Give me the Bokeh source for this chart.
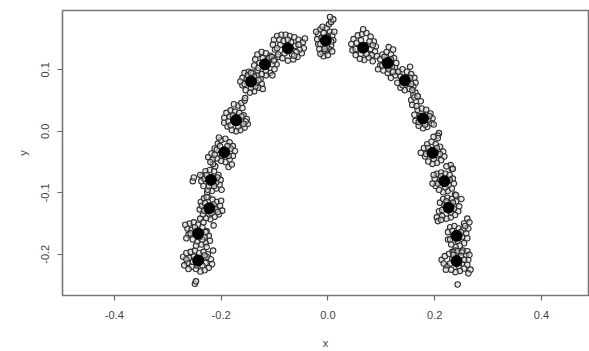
from bokeh.plotting import figure
from bokeh.models import Range1d, FixedTicker, CustomJSTickFormatter
from bokeh.embed import file_html
from bokeh.resources import INLINE

# cluster centres (black dots)
center_x = [-0.243, -0.243, -0.222, -0.219, -0.194, -0.172, -0.144, -0.118, -0.075, -0.004,
            0.066, 0.112, 0.144, 0.178, 0.196, 0.218, 0.226, 0.241, 0.241]
center_y = [-0.210, -0.166, -0.125, -0.079, -0.034, 0.018, 0.081, 0.109, 0.135, 0.148,
            0.136, 0.111, 0.083, 0.021, -0.035, -0.081, -0.124, -0.170, -0.211]

# scatter of individual points around each centre, in thousandths (dx, dy)
jit_01 = [(-28,6),(-22,12),(-14,14),(-6,16),(2,12),(10,14),(18,10),(24,2),(26,-6),(20,-12),(12,-16),(4,-18),(-4,-14),(-12,-10),(-20,-4),(-26,-8),(-6,-38),(-4,-34),(28,16),(-16,4),(14,-4),(-8,6),(8,-8),(-18,-14),(-10,-2),(6,4),(16,6),(-2,-8),(12,8),(-22,2)]
jit_02 = [(-20,8),(-16,16),(-8,18),(0,14),(8,10),(16,4),(20,-4),(22,-12),(14,-16),(6,-18),(-2,-14),(-10,-10),(-18,-2),(-22,-8),(-24,14),(4,24),(16,-22),(-12,6),(12,-6),(-4,-20),(10,18),(-14,0),(8,-10),(-6,10),(14,2),(2,-6)]
jit_03 = [(-16,10),(-10,16),(-2,18),(6,14),(14,10),(20,4),(24,-4),(18,-10),(10,-14),(2,-18),(-6,-16),(-12,-10),(-18,-2),(-4,26),(8,-28),(-14,4),(12,-2),(0,-10),(22,12),(-8,8),(8,6),(-10,-4),(16,-6),(4,-8)]
jit_04 = [(-16,6),(-10,14),(-2,16),(6,14),(14,8),(18,0),(16,-8),(10,-14),(2,-18),(-6,-16),(-14,-10),(-18,-2),(-34,-2),(-32,4),(8,22),(20,-16),(-8,-28),(-12,2),(10,-4),(4,26),(-8,8),(12,4),(-4,-10),(6,-10),(-20,8)]
jit_05 = [(-30,-8),(-24,-2),(-18,6),(-12,14),(-6,20),(2,22),(10,16),(16,10),(20,2),(16,-6),(10,-12),(2,-16),(-6,-14),(-14,-10),(-22,-12),(-10,24),(8,-24),(14,-20),(-14,4),(12,6),(-4,-6),(-8,10),(6,10),(-18,-4),(8,-6),(-26,-16)]
jit_06 = [(-22,4),(-18,12),(-10,16),(-2,14),(6,12),(14,8),(20,2),(22,-6),(16,-12),(8,-16),(0,-18),(-8,-16),(-16,-10),(-22,-4),(4,24),(10,28),(16,32),(-4,26),(12,20),(-12,6),(6,-4),(18,-2),(-14,-2),(-6,8),(10,6),(-10,-8),(4,-10),(14,-6)]
jit_07 = [(-16,6),(-12,14),(-4,16),(4,14),(12,10),(18,4),(20,-4),(14,-10),(6,-16),(-2,-18),(-10,-14),(-16,-6),(22,-12),(10,-2),(-20,0),(-11,-27),(-8,4),(8,-8),(-6,10),(6,8),(-12,-4),(14,2),(0,-10)]
jit_08 = [(-18,8),(-14,16),(-6,20),(2,18),(10,14),(18,8),(22,0),(18,-8),(10,-14),(2,-18),(-6,-16),(-14,-10),(-20,-2),(14,-18),(24,12),(-10,2),(6,4),(-26,-14),(-4,10),(8,10),(-12,-6),(14,0),(2,-10)]
jit_09 = [(-26,14),(-20,20),(-12,22),(-4,22),(4,20),(12,18),(20,14),(28,10),(30,0),(26,-8),(18,-14),(10,-18),(0,-20),(-10,-16),(-18,-10),(-24,-2),(-28,6),(-14,6),(14,4),(22,-2),(-6,-8),(6,10),(-30,-14),(-26,-20),(32,16),(-16,14),(16,-6),(-8,12),(20,6),(8,-10),(-20,0),(0,14),(12,-12)]
jit_10 = [(-14,10),(-10,18),(-6,22),(2,20),(8,14),(12,8),(14,0),(10,-8),(6,-14),(0,-18),(-6,-20),(-12,-14),(-14,-6),(-16,2),(6,26),(10,30),(14,34),(8,38),(-4,-26),(4,-24),(12,-18),(-10,-22),(16,14),(-18,14),(-8,4),(4,6),(-4,12),(10,-2),(-10,-6),(2,-10),(-2,-14)]
jit_11 = [(-22,6),(-18,14),(-10,20),(-2,22),(6,24),(14,18),(20,10),(24,2),(22,-6),(16,-12),(10,-16),(2,-20),(-6,-18),(-14,-12),(-20,-4),(0,30),(26,-14),(18,-22),(-12,8),(8,4),(-4,-10),(14,-2),(-4,12),(12,10),(-14,-2),(6,-10),(18,4)]
jit_12 = [(-14,6),(-10,14),(-2,18),(6,14),(12,8),(16,0),(14,-8),(8,-14),(0,-16),(-8,-12),(-14,-4),(2,26),(10,22),(-4,4),(-18,-10),(18,-14),(-6,10),(6,6),(-10,-4),(8,-6),(2,-10)]
jit_13 = [(-18,8),(-12,14),(-4,18),(4,14),(12,10),(18,4),(20,-4),(16,-10),(8,-14),(0,-16),(-8,-12),(-14,-4),(20,-20),(24,-26),(16,-24),(-22,14),(10,22),(-26,4),(6,-4),(-8,6),(10,4),(-4,-8),(12,-6),(14,-16)]
jit_14 = [(-16,6),(-10,14),(-2,16),(6,14),(14,8),(18,0),(16,-8),(8,-14),(0,-16),(-8,-12),(-14,-4),(-22,30),(-16,34),(-10,36),(-4,28),(-20,22),(20,-10),(30,-24),(28,-28),(-6,4),(10,-2),(-12,20),(6,6),(-8,-6),(4,-10),(12,4)]
jit_15 = [(-16,8),(-10,14),(-2,18),(6,14),(14,10),(20,2),(22,-6),(16,-12),(8,-16),(0,-18),(-8,-14),(-14,-6),(-22,0),(10,24),(2,26),(34,-20),(36,-26),(-6,2),(10,-4),(-8,8),(8,8),(-12,-2),(14,-2),(2,-10)]
jit_16 = [(-18,4),(-14,12),(-6,14),(2,12),(10,10),(16,4),(18,-4),(14,-12),(6,-16),(-2,-18),(-10,-14),(-16,-8),(-22,-4),(4,24),(16,20),(20,-22),(-8,2),(8,-6),(-6,8),(10,2),(-12,-4),(2,-10),(-20,10)]
jit_17 = [(-16,8),(-10,14),(-2,16),(6,14),(14,10),(20,2),(18,-6),(12,-12),(4,-16),(-4,-18),(-12,-14),(-18,-6),(-22,-16),(-20,-22),(14,20),(24,14),(-8,4),(10,-2),(-4,10),(8,8),(-12,-4),(4,-8),(-14,-20)]
jit_18 = [(-16,6),(-12,14),(-4,16),(4,12),(12,10),(18,4),(20,-4),(14,-12),(6,-16),(-2,-18),(-10,-14),(-16,-6),(14,20),(20,28),(24,22),(-8,-26),(4,-28),(12,-24),(-6,2),(10,-2),(22,12),(-8,8),(8,6),(-12,-6),(2,-8),(16,16),(-2,-24)]
jit_19 = [(-28,2),(-22,8),(-14,12),(-6,14),(2,16),(10,14),(18,10),(22,2),(20,-6),(14,-12),(6,-16),(-2,-18),(-10,-14),(-18,-8),(-24,-4),(20,16),(26,-14),(22,-20),(2,-38),(-8,4),(10,-4),(-6,10),(8,8),(-12,-4),(14,2),(4,-8),(-20,-14),(24,10)]

jitters = [jit_01, jit_02, jit_03, jit_04, jit_05, jit_06, jit_07, jit_08, jit_09, jit_10,
           jit_11, jit_12, jit_13, jit_14, jit_15, jit_16, jit_17, jit_18, jit_19]

x_ticks = [-0.4, -0.2, 0.0, 0.2, 0.4]
y_ticks = [-0.2, -0.1, 0.0, 0.1]

pts_x, pts_y = [], []
for cxv, cyv, jit in zip(center_x, center_y, jitters):
    for dx, dy in jit:
        pts_x.append(cxv + dx / 1000.0)
        pts_y.append(cyv + dy / 1000.0)

p = figure(width=589, height=351, output_backend="svg", toolbar_location=None,
           x_range=Range1d(-0.497, 0.488), y_range=Range1d(-0.267, 0.1965),
           min_border_left=62, min_border_right=1, min_border_top=10, min_border_bottom=56)

p.scatter(pts_x, pts_y, size=5.5, marker="circle", fill_color="#d8d8d8", fill_alpha=0.6,
          line_color="#2e2e2e", line_width=1.1)
p.scatter(center_x, center_y, size=11, marker="circle", fill_color="black", line_color="black")

p.grid.visible = False
p.background_fill_color = "white"
p.border_fill_color = "white"
p.outline_line_color = "#777777"
p.outline_line_width = 1.6

fmt = CustomJSTickFormatter(code="return tick.toFixed(1);")
for ax, ticks in ((p.xaxis[0], x_ticks), (p.yaxis[0], y_ticks)):
    ax.ticker = FixedTicker(ticks=ticks)
    ax.formatter = fmt
    ax.axis_line_color = None
    ax.major_tick_in = 0
    ax.major_tick_out = 5
    ax.major_tick_line_color = "#666666"
    ax.major_tick_line_width = 1.2
    ax.minor_tick_line_color = None
    ax.major_label_text_font = "Liberation Sans"
    ax.major_label_text_font_size = "11px"
    ax.major_label_text_color = "#444444"
    ax.axis_label_text_font = "Liberation Sans"
    ax.axis_label_text_font_size = "11px"
    ax.axis_label_text_font_style = "normal"
    ax.axis_label_text_color = "#444444"

p.xaxis.axis_label = "x"
p.yaxis.axis_label = "y"
p.xaxis.major_label_standoff = 10
p.xaxis.axis_label_standoff = 15
p.yaxis.major_label_standoff = 8
p.yaxis.axis_label_standoff = 10
p.yaxis.major_label_orientation = "vertical"

open("out.html", "w").write(file_html(p, INLINE))
